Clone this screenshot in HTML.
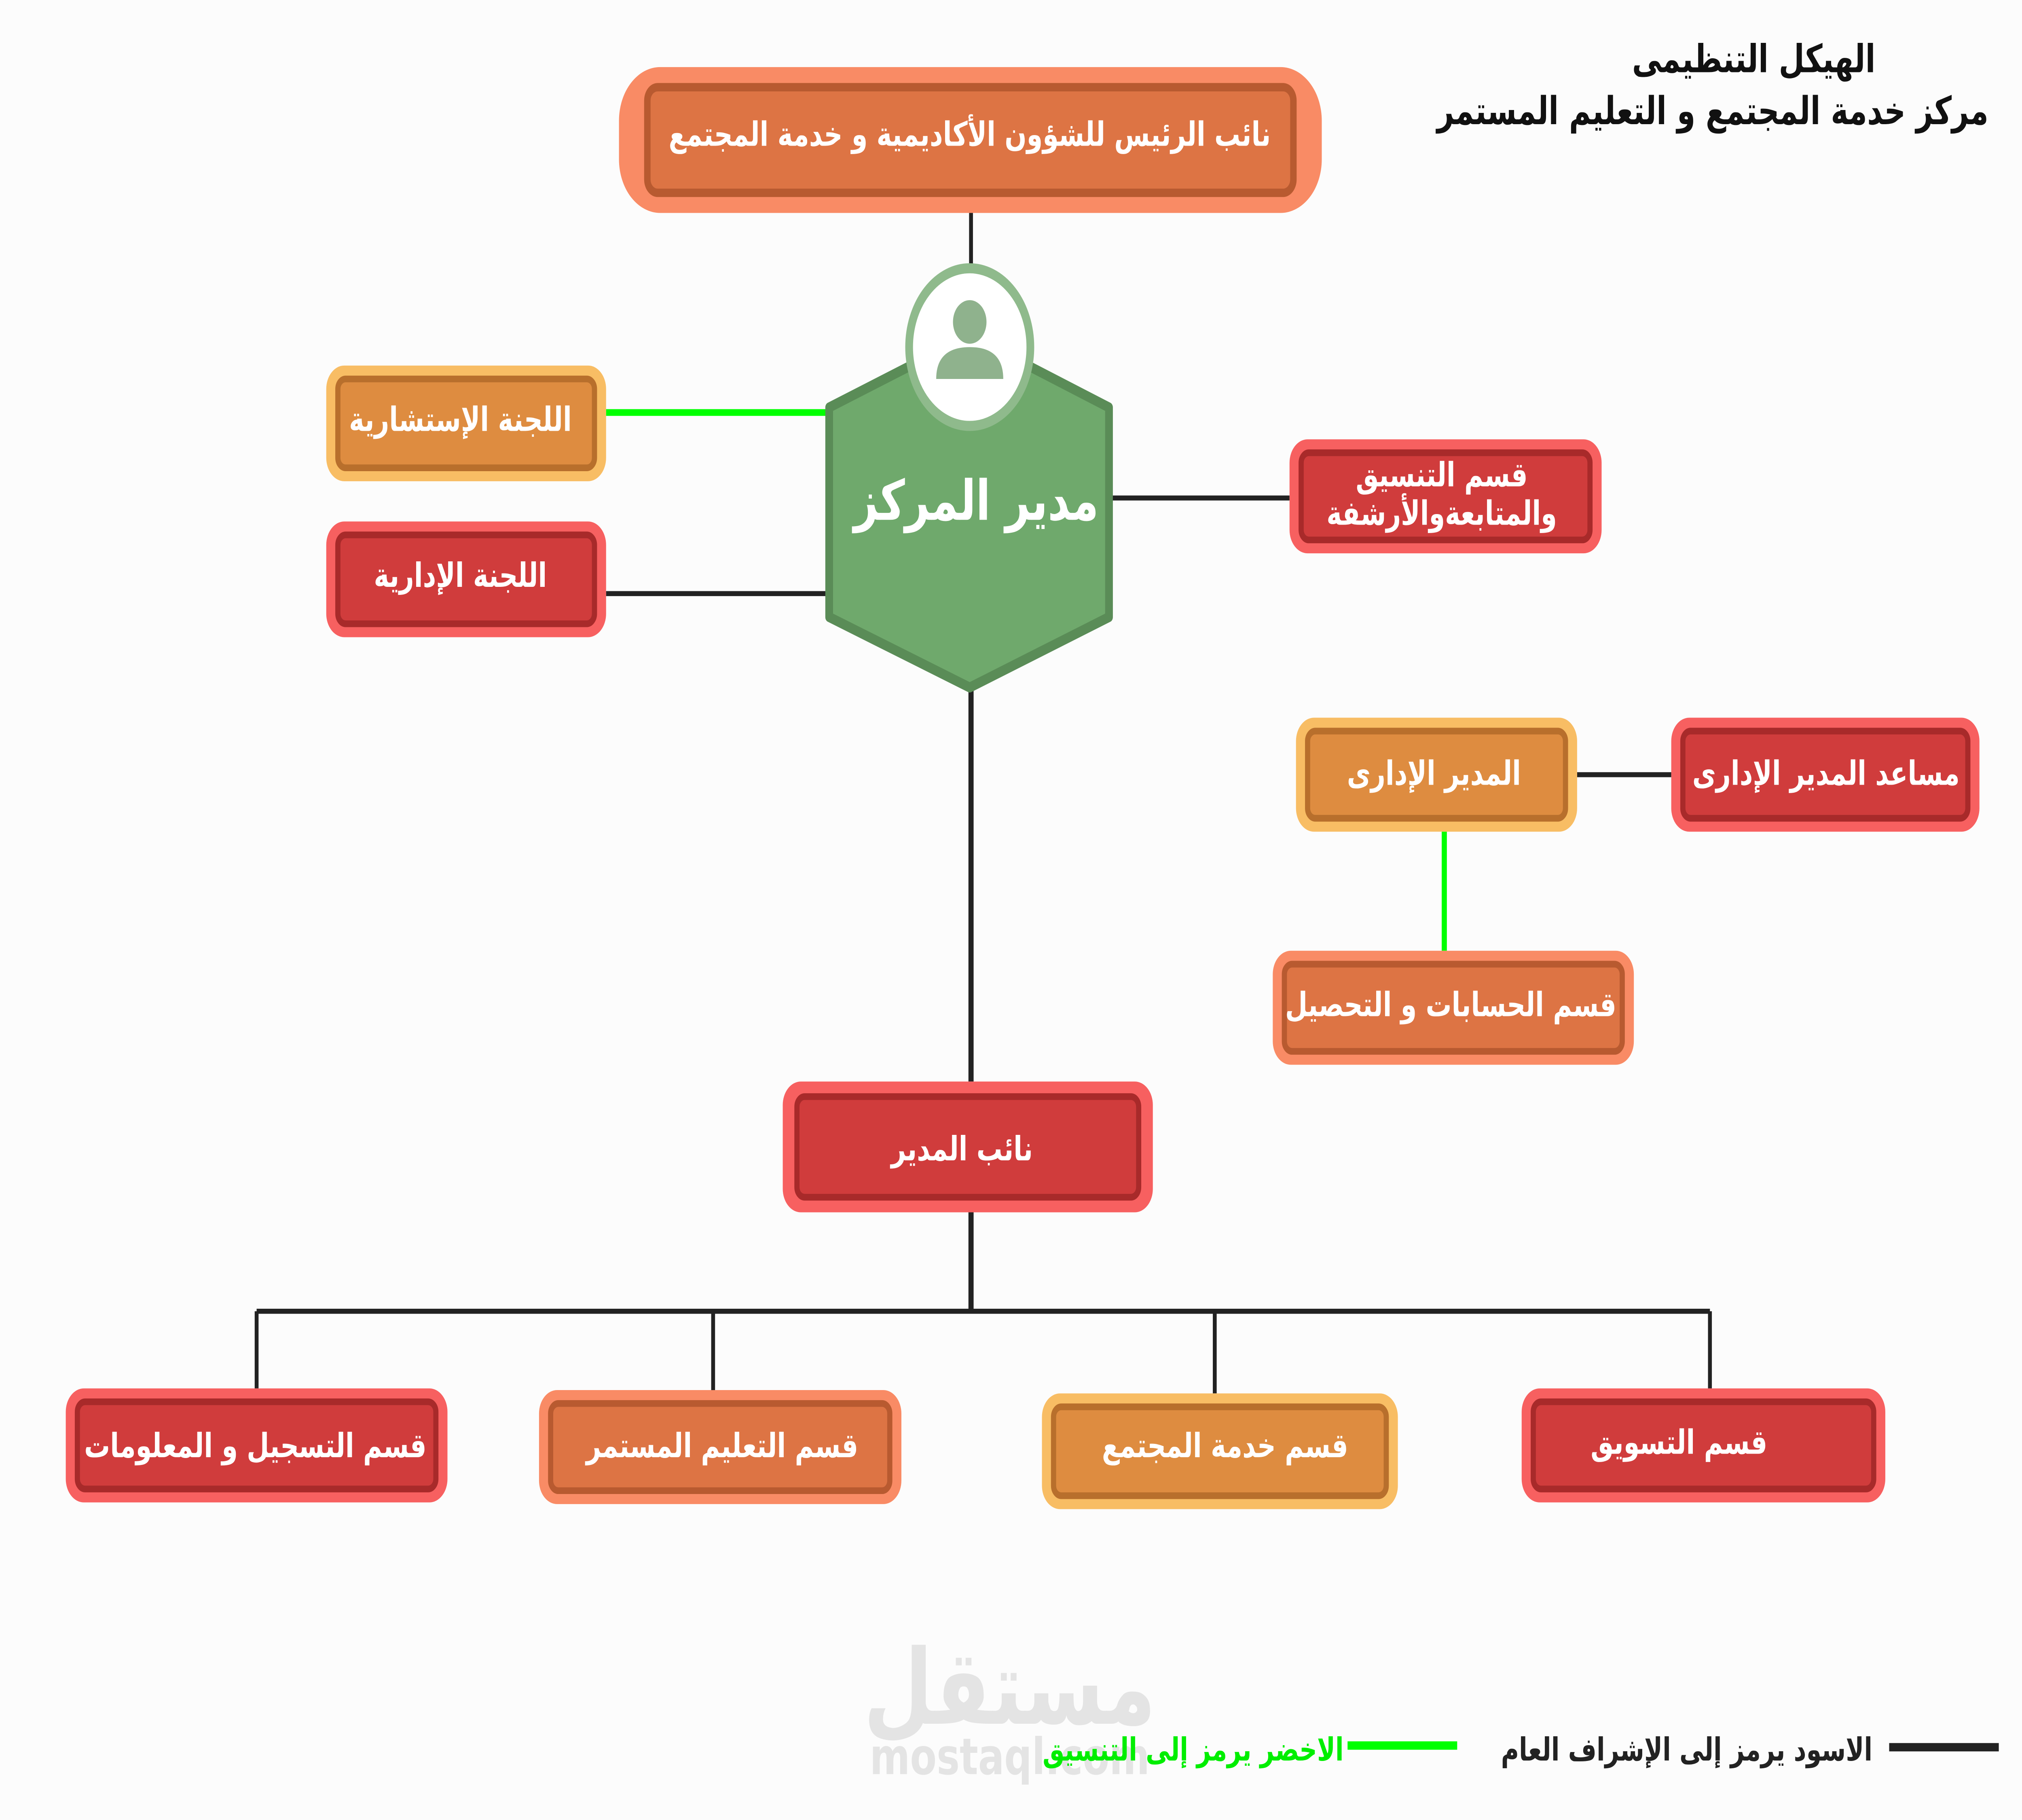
<!DOCTYPE html>
<html><head><meta charset="utf-8"><style>
html,body{margin:0;padding:0;background:#fcfcfc;width:100%;height:100%;overflow:hidden;}
svg{display:block;position:absolute;left:0;top:0;width:100vw;height:100vh;}
text{font-family:"DejaVu Sans","Liberation Sans","Noto Sans CJK SC",sans-serif;font-weight:bold;}
</style></head><body>
<svg viewBox="0 0 1568 1085.4" preserveAspectRatio="none" xmlns="http://www.w3.org/2000/svg">
<rect x="0" y="0" width="1568" height="1086" fill="#fcfcfc"/>
<text x="783" y="1028" text-anchor="middle" font-size="62" fill="#e4e4e4">مستقل</text>
<text x="783" y="1058" text-anchor="middle" font-size="30" fill="#e4e4e4">mostaql.com</text>
<g stroke="#222" stroke-width="3" fill="none">
<line x1="753" y1="127" x2="753" y2="168"/>
<line x1="470" y1="354" x2="645" y2="354"/>
<line x1="862" y1="297" x2="1000" y2="297"/>
<line x1="753" y1="408" x2="753" y2="645" stroke-width="4"/>
<line x1="753" y1="723" x2="753" y2="782" stroke-width="4"/>
<line x1="199" y1="782" x2="1326" y2="782"/>
<line x1="199" y1="782" x2="199" y2="828"/>
<line x1="553" y1="782" x2="553" y2="829"/>
<line x1="942" y1="782" x2="942" y2="831"/>
<line x1="1326" y1="782" x2="1326" y2="828"/>
<line x1="1223" y1="462" x2="1296" y2="462"/>
</g>
<g stroke="#00ff00" stroke-width="4">
<line x1="470" y1="246" x2="645" y2="246"/>
<line x1="1120" y1="496" x2="1120" y2="567"/>
</g>
<g>
<rect x="480" y="40" width="545" height="87" rx="32" fill="#f98b65"/>
<rect x="502" y="52" width="501" height="63" rx="8" fill="#dd7444" stroke="#b85a30" stroke-width="5"/>
<rect x="253" y="218" width="217" height="69" rx="14" fill="#f8bd64"/>
<rect x="262" y="226" width="199" height="53" rx="6" fill="#de8c40" stroke="#b86f2c" stroke-width="4"/>
<rect x="253" y="311" width="217" height="69" rx="14" fill="#f76060"/>
<rect x="262" y="319" width="199" height="53" rx="6" fill="#d03c3c" stroke="#a82a2a" stroke-width="4"/>
<rect x="1000" y="262" width="242" height="68" rx="14" fill="#f76060"/>
<rect x="1009" y="270" width="224" height="52" rx="6" fill="#d03c3c" stroke="#a82a2a" stroke-width="4"/>
<rect x="1005" y="428" width="218" height="68" rx="14" fill="#f8bd64"/>
<rect x="1014" y="436" width="200" height="52" rx="6" fill="#de8c40" stroke="#b86f2c" stroke-width="4"/>
<rect x="1296" y="428" width="239" height="68" rx="14" fill="#f76060"/>
<rect x="1305" y="436" width="221" height="52" rx="6" fill="#d03c3c" stroke="#a82a2a" stroke-width="4"/>
<rect x="987" y="567" width="280" height="68" rx="14" fill="#f98b65"/>
<rect x="996" y="575" width="262" height="52" rx="6" fill="#dd7444" stroke="#b85a30" stroke-width="4"/>
<rect x="607" y="645" width="287" height="78" rx="14" fill="#f76060"/>
<rect x="618" y="654" width="265" height="60" rx="6" fill="#d03c3c" stroke="#a82a2a" stroke-width="4"/>
<rect x="51" y="828" width="296" height="68" rx="14" fill="#f76060"/>
<rect x="60" y="836" width="278" height="52" rx="6" fill="#d03c3c" stroke="#a82a2a" stroke-width="4"/>
<rect x="418" y="829" width="281" height="68" rx="14" fill="#f98b65"/>
<rect x="427" y="837" width="263" height="52" rx="6" fill="#dd7444" stroke="#b85a30" stroke-width="4"/>
<rect x="808" y="831" width="276" height="69" rx="14" fill="#f8bd64"/>
<rect x="817" y="839" width="258" height="53" rx="6" fill="#de8c40" stroke="#b86f2c" stroke-width="4"/>
<rect x="1180" y="828" width="282" height="68" rx="14" fill="#f76060"/>
<rect x="1189" y="836" width="264" height="52" rx="6" fill="#d03c3c" stroke="#a82a2a" stroke-width="4"/>
</g>
<polygon points="752,200 860,243 860,368 752,410 643,368 643,243" fill="#6fa96c" stroke="#5a8c57" stroke-width="6" stroke-linejoin="round"/>
<circle cx="752" cy="207" r="47" fill="#fff" stroke="#8fba8c" stroke-width="6"/>
<circle cx="752" cy="192" r="13" fill="#8fb28d"/>
<path d="M726,226 Q726,207 752,207 Q778,207 778,226 Z" fill="#8fb28d"/>
<g fill="#fff" text-anchor="middle" direction="rtl">
<text x="752" y="87" font-size="20">نائب الرئيس للشؤون الأكاديمية و خدمة المجتمع</text>
<text x="357" y="257" font-size="20">اللجنة الإستشارية</text>
<text x="357" y="350" font-size="20">اللجنة الإدارية</text>
<text x="1118" y="290" font-size="20">قسم التنسيق</text>
<text x="1118" y="313" font-size="20">والمتابعةوالأرشفة</text>
<text x="1112" y="468" font-size="20">المدير الإدارى</text>
<text x="1416" y="468" font-size="20">مساعد المدير الإدارى</text>
<text x="1125" y="606" font-size="20">قسم الحسابات و التحصيل</text>
<text x="746" y="692" font-size="20">نائب المدير</text>
<text x="198" y="869" font-size="20">قسم التسجيل و المعلومات</text>
<text x="560" y="869" font-size="20">قسم التعليم المستمر</text>
<text x="950" y="869" font-size="20">قسم خدمة المجتمع</text>
<text x="1302" y="867" font-size="20">قسم التسويق</text>
<text x="757" y="310" font-size="33">مدير المركز</text>
</g>
<g direction="rtl">
<text x="1360" y="43" font-size="23" fill="#111" text-anchor="middle">الهيكل التنظيمى</text>
<text x="1542" y="74" font-size="23" fill="#111" text-anchor="start">مركز خدمة المجتمع و التعليم المستمر</text>
<text x="1452" y="1050" font-size="19" fill="#222" text-anchor="start">الاسود يرمز إلى الإشراف العام</text>
<text x="1042" y="1050" font-size="19" fill="#00ee00" text-anchor="start">الاخضر يرمز إلى التنسيق</text>
</g>
<line x1="1465" y1="1042" x2="1550" y2="1042" stroke="#222" stroke-width="5"/>
<line x1="1045" y1="1041" x2="1130" y2="1041" stroke="#00ff00" stroke-width="5"/>
</svg>
</body></html>
